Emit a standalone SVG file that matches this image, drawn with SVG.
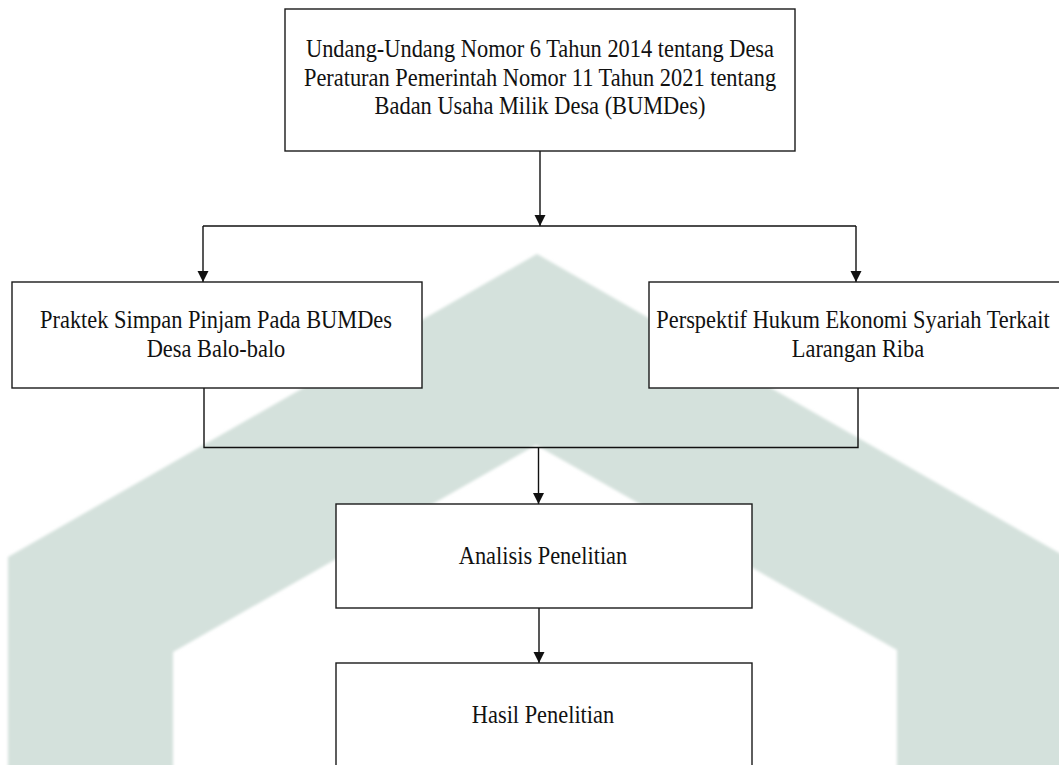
<svg xmlns="http://www.w3.org/2000/svg" width="1059" height="765" viewBox="0 0 1059 765">
  <style>
    .box { fill: #ffffff; stroke: #1a1a1a; stroke-width: 1.4; }
    .lbl { font-family: "Liberation Serif", "Times New Roman", serif; font-size: 22.4px; fill: #111111; text-anchor: middle; }
    .conn { fill: none; stroke: #111111; stroke-width: 1.4; }
    .wm { fill: #d4e1dc; stroke: none; }
  </style>
  <defs>
    <marker id="arr" markerUnits="userSpaceOnUse" markerWidth="12" markerHeight="12" refX="11" refY="5.5" orient="auto">
      <path d="M0,0 L11,5.5 L0,11 Z" fill="#111111"/>
    </marker>
    <filter id="soft" x="-5%" y="-5%" width="110%" height="110%">
      <feGaussianBlur stdDeviation="1.6"/>
    </filter>
  </defs>
  <rect x="0" y="0" width="1059" height="765" fill="#ffffff"/>
  <g id="watermark" filter="url(#soft)">
    <path class="wm" d="M8,775 L8,557 L537,254 L1066,557 L1066,775 L897,775 L897,650 L536,445 L173,652 L173,775 Z"/>
  </g>
  <g id="connectors">
    <line class="conn" x1="540" y1="151" x2="540" y2="226" marker-end="url(#arr)"/>
    <line class="conn" x1="203" y1="226" x2="856" y2="226"/>
    <line class="conn" x1="203" y1="226" x2="203" y2="282" marker-end="url(#arr)"/>
    <line class="conn" x1="856" y1="226" x2="856" y2="282" marker-end="url(#arr)"/>
    <polyline class="conn" points="204,388 204,447.5 858,447.5 858,388"/>
    <line class="conn" x1="538.5" y1="447.5" x2="538.5" y2="504" marker-end="url(#arr)"/>
    <line class="conn" x1="539" y1="608" x2="539" y2="663" marker-end="url(#arr)"/>
  </g>
  <g id="node-uu">
    <rect class="box" x="285" y="9" width="510" height="142"/>
    <text class="lbl" transform="translate(540,57) scale(1,1.1)">Undang-Undang Nomor 6 Tahun 2014 tentang Desa</text>
    <text class="lbl" transform="translate(540,85.5) scale(1,1.1)">Peraturan Pemerintah Nomor 11 Tahun 2021 tentang</text>
    <text class="lbl" transform="translate(540,114) scale(1,1.1)">Badan Usaha Milik Desa (BUMDes)</text>
  </g>
  <g id="node-praktek">
    <rect class="box" x="12" y="282" width="410" height="106"/>
    <text class="lbl" transform="translate(216,328) scale(1,1.1)">Praktek Simpan Pinjam Pada BUMDes</text>
    <text class="lbl" transform="translate(216,356.5) scale(1,1.1)">Desa Balo-balo</text>
  </g>
  <g id="node-perspektif">
    <rect class="box" x="649" y="282" width="418" height="106"/>
    <text class="lbl" transform="translate(853,328) scale(1,1.1)">Perspektif Hukum Ekonomi Syariah Terkait</text>
    <text class="lbl" transform="translate(858,356.5) scale(1,1.1)">Larangan Riba</text>
  </g>
  <g id="node-analisis">
    <rect class="box" x="336" y="504" width="416" height="104"/>
    <text class="lbl" transform="translate(543,564) scale(1,1.1)">Analisis Penelitian</text>
  </g>
  <g id="node-hasil">
    <rect class="box" x="336" y="663" width="416" height="120"/>
    <text class="lbl" transform="translate(543,723) scale(1,1.1)">Hasil Penelitian</text>
  </g>
</svg>
